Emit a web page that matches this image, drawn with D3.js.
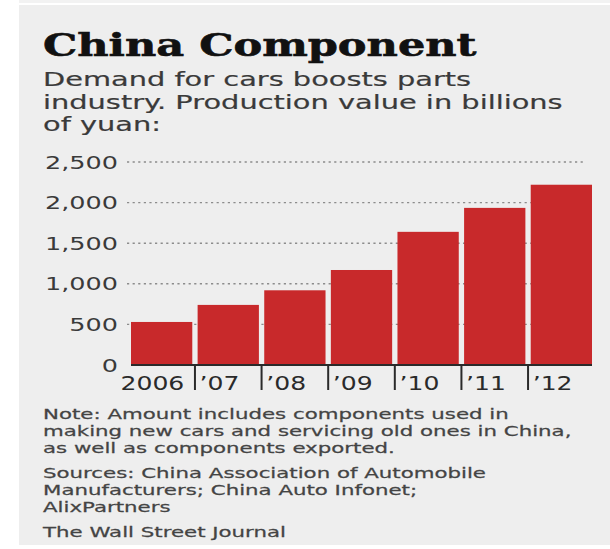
<!DOCTYPE html>
<html>
<head>
<meta charset="utf-8">
<script src="https://cdn.jsdelivr.net/npm/d3@7"></script>
<style>
  html, body { margin: 0; padding: 0; background: #ffffff; }
  svg { display: block; }
</style>
</head>
<body>
<svg id="chart" width="610" height="549"></svg>
<script>
// Production value of China's auto-parts industry, billions of yuan
const years = ["2006", "\u201907", "\u201908", "\u201909", "\u201910", "\u201911", "\u201912"];
const values = [530, 740, 920, 1170, 1640, 1935, 2220];
const yTicks = [0, 500, 1000, 1500, 2000, 2500];

const title = "China Component";
const subtitle = [
  "Demand for cars boosts parts",
  "industry. Production value in billions",
  "of yuan:"
];
const noteLines = [
  "Note: Amount includes components used in",
  "making new cars and servicing old ones in China,",
  "as well as components exported."
];
const sourceLines = [
  "Sources: China Association of Automobile",
  "Manufacturers; China Auto Infonet;",
  "AlixPartners"
];
const credit = "The Wall Street Journal";

const SANS = "'DejaVu Sans', Verdana, sans-serif";
const SERIF = "'DejaVu Serif', Georgia, serif";

const svg = d3.select("#chart");

// panel background
svg.append("rect").attr("x", 19).attr("y", 0).attr("width", 591).attr("height", 3).attr("fill", "#f2f2f2");
svg.append("rect").attr("x", 19).attr("y", 5).attr("width", 591).attr("height", 540).attr("fill", "#eeeeee");

// text with a horizontal stretch (the typeface is set wide)
function label(parent, str, x, y, o) {
  const t = parent.append("text")
    .attr("transform", `translate(${x},${y}) scale(${o.sx},1)`)
    .attr("text-anchor", o.anchor || "start")
    .attr("font-family", o.family || SANS)
    .attr("font-size", o.size)
    .attr("font-weight", o.weight || "normal")
    .attr("fill", o.fill || "#333")
    .text(str);
  if (o.stroke) t.attr("stroke", o.fill || "#333").attr("stroke-width", o.stroke);
  return t;
}

// headline block
label(svg, title, 43, 56, { sx: 1.39, size: 31, weight: "bold", family: SERIF, fill: "#111", stroke: 0.6 });
subtitle.forEach((s, i) => label(svg, s, 43, 86 + i * 22.5, { sx: 1.48, size: 19.5, fill: "#3a3a3a", stroke: 0.2 }));

// scales
const x = d3.scaleBand().domain(years).range([131, 592]).paddingInner(0.08).paddingOuter(0);
const y = d3.scaleLinear().domain([0, 2500]).range([365, 162]);

// dotted gridlines
svg.append("g").selectAll("line")
  .data(yTicks.filter(d => d > 0))
  .join("line")
  .attr("x1", 127).attr("x2", 583)
  .attr("y1", d => y(d)).attr("y2", d => y(d))
  .attr("stroke", "#8c8c8c")
  .attr("stroke-width", 1.4)
  .attr("stroke-dasharray", "2.2,3.4");

// y axis labels
const yStretch = 1.5;
const yAxis = svg.append("g")
  .attr("transform", "translate(127,0)")
  .call(d3.axisLeft(y).tickValues(yTicks).tickFormat(d3.format(",")).tickSize(0).tickPadding(0));
yAxis.select(".domain").remove();
yAxis.selectAll(".tick text")
  .attr("x", null)
  .attr("dy", "0.36em")
  .attr("transform", `translate(-9,0) scale(${yStretch},1)`)
  .attr("font-family", SANS)
  .attr("font-size", 17)
  .attr("fill", "#3a3a3a");

// bars
svg.append("g").selectAll("rect")
  .data(values)
  .join("rect")
  .attr("x", (d, i) => x(years[i]))
  .attr("width", x.bandwidth())
  .attr("y", d => y(d))
  .attr("height", d => y(0) - y(d))
  .attr("fill", "#c8292b");

// baseline
svg.append("line")
  .attr("x1", x.range()[0]).attr("x2", x.range()[1])
  .attr("y1", y(0)).attr("y2", y(0))
  .attr("stroke", "#2a2a2a").attr("stroke-width", 2);

// category separators below the baseline
const gap = x.step() * x.paddingInner();
svg.append("g").selectAll("line")
  .data(years.slice(1))
  .join("line")
  .attr("x1", d => x(d) - gap / 2).attr("x2", d => x(d) - gap / 2)
  .attr("y1", y(0)).attr("y2", y(0) + 25)
  .attr("stroke", "#2a2a2a").attr("stroke-width", 2);

// year labels
years.forEach((d, i) => {
  if (i === 0) {
    label(svg, d, x(d) + x.bandwidth() - 8, y(0) + 25, { sx: 1.32, size: 19, anchor: "end", fill: "#2a2a2a" });
  } else {
    label(svg, d, x(d) + 2, y(0) + 25, { sx: 1.32, size: 19, fill: "#2a2a2a" });
  }
});

// footnotes
const foot = { sx: 1.47, size: 14.5, fill: "#444", stroke: 0.25 };
noteLines.forEach((s, i) => label(svg, s, 43, 419 + i * 17, foot));
sourceLines.forEach((s, i) => label(svg, s, 43, 478 + i * 17, foot));
label(svg, credit, 43, 537, foot);
</script>
</body>
</html>
